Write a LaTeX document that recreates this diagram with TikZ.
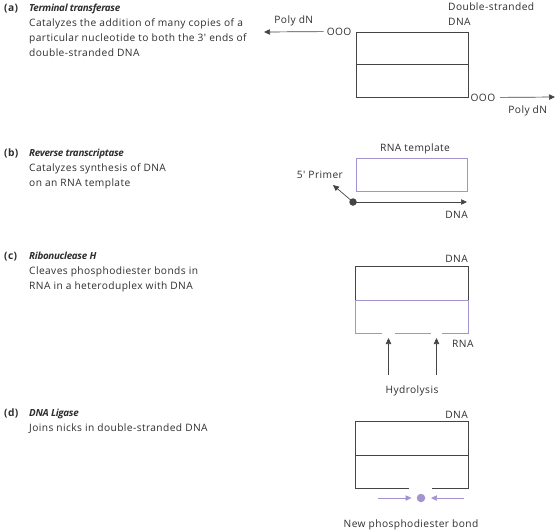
\documentclass[tikz,border=0pt]{standalone}
\usepackage{fontspec}
\setmainfont{Open Sans}[LetterSpace=4]
\usepackage{xcolor}
\usetikzlibrary{arrows.meta,positioning,calc}
\definecolor{ink}{HTML}{2E2E2E}
\definecolor{strandgray}{HTML}{444444}
\definecolor{lavender}{RGB}{163,148,207}
\tikzset{
  tag/.style={font=\fontsize{10.2}{14.8}\selectfont\bfseries, anchor=base west, inner sep=0pt, text=ink},
  entry/.style={anchor=north west, align=left, inner sep=0pt, text=ink, font=\fontsize{10.2}{14.8}\selectfont},
  small/.style={font=\fontsize{10.2}{14.8}\selectfont, text=ink, inner sep=0pt},
  dna/.style={draw=strandgray, line width=0.8pt},
  rna/.style={draw=lavender, line width=0.8pt},
  arrow/.style={-{Triangle[length=6pt,width=5.4pt]}, draw=strandgray, line width=0.7pt},
  purplearrow/.style={arrow, draw=lavender},
  spot/.style={circle, inner sep=0pt, minimum size=7.5pt},
  frame/.style={inner sep=0pt, minimum width=112pt},
}
\newcommand{\enzyme}[1]{{\fontsize{9.8}{14.8}\selectfont\addfontfeatures{LetterSpace=-3}\bfseries\itshape #1}}

\begin{document}
\begin{tikzpicture}[x=1pt,y=-1pt]
\useasboundingbox (0,0) rectangle (556,531);

% left column
\node[tag] (taga) at (4,11.6) {(a)};
\node[entry] (enta) at (29,4.2) {\enzyme{Terminal transferase}\\Catalyzes the addition of many copies of a\\particular nucleotide to both the 3′ ends of\\double-stranded DNA};
\node[tag] (tagb) at (4,156.3) {(b)};
\node[entry] (entb) at (29,148.9) {\enzyme{Reverse transcriptase}\\Catalyzes synthesis of DNA\\on an RNA template};
\node[tag] (tagc) at (4,259.6) {(c)};
\node[entry] (entc) at (29,252.2) {\enzyme{Ribonuclease H}\\Cleaves phosphodiester bonds in\\RNA in a heteroduplex with DNA};
\node[tag] (tagd) at (4,416.6) {(d)};
\node[entry] (entd) at (29,409.2) {\enzyme{DNA Ligase}\\Joins nicks in double-stranded DNA};

% (a) terminal transferase
\node[frame, dna, minimum height=65pt] (dsa) at (412,64.5) {};
\draw[dna] (dsa.west) -- (dsa.east);
\node[small, align=left, anchor=north west] (dslabel) at (448,2.5) {Double-stranded\\DNA};
\node[small, anchor=east] (oooleft) at ([xshift=-4pt]dsa.north west) {OOO};
\node[small, anchor=west] (oooright) at ([xshift=2pt]dsa.south east) {OOO};
\coordinate (polyleft) at (264,32);
\coordinate (polyright) at (555,97);
\draw[arrow] ([xshift=-3pt]oooleft.west) -- node[small, above=6pt] (polylabelleft) {Poly dN} (polyleft);
\draw[arrow] ([xshift=5pt]oooright.east) -- node[small, below=8pt] (polylabelright) {Poly dN} (polyright);

% (b) reverse transcriptase
\node[frame, rna, minimum width=111pt, minimum height=33pt] (rnabox) at (411.5,174.5) {};
\node[small, anchor=base] (rnalabel) at (415,151) {RNA template};
\node[spot, fill=strandgray] (primerdot) at (353,202) {};
\coordinate (dnaend) at (467,202);
\coordinate (primerend) at (333,185);
\draw[arrow] (primerdot.center) -- (dnaend);
\draw[arrow] (primerdot.center) -- (primerend);
\node[small, anchor=base east] (dnalabelb) at (468,218) {DNA};
\node[small, anchor=base east] (primerlabel) at (343,178) {5′ Primer};

% (c) ribonuclease H
\node[frame, minimum height=66pt] (hetero) at (412,300) {};
\coordinate (cut1) at (388.5,333);
\coordinate (cut2) at (436.5,333);
\draw[dna] (hetero.west) |- (hetero.north east) -- (hetero.east);
\draw[rna] ([xshift=-6.5pt]cut1) -| (hetero.west) -- (hetero.east) |- ([xshift=5.5pt]cut2);
\draw[rna] ([xshift=6.5pt]cut1) -- ([xshift=-5.5pt]cut2);
\node[small, anchor=base east] (dnalabelc) at (468,262) {DNA};
\node[small, anchor=base west] (rnalabelc) at (452,347) {RNA};
\draw[arrow] ([yshift=-42pt]cut1) -- ([yshift=-5pt]cut1);
\draw[arrow] ([yshift=-42pt]cut2) -- ([yshift=-5pt]cut2);
\node[small, anchor=base] (hydlabel) at (412,393) {Hydrolysis};

% (d) DNA ligase
\node[frame, minimum height=66pt] (ligated) at (412,455) {};
\coordinate (nickL) at (409,488);
\coordinate (nickR) at (432,488);
\draw[dna] (nickL) -| (ligated.north west) -- (ligated.north east) |- (nickR);
\draw[dna] (ligated.west) -- (ligated.east);
\node[small, anchor=base east] (dnalabeld) at (468,418) {DNA};
\node[spot, fill=lavender, minimum size=8.5pt] (bond) at (421,498) {};
\coordinate (joinL) at (378,498);
\coordinate (joinR) at (464,498);
\draw[purplearrow] (joinL) -- ([xshift=-5pt]bond.west);
\draw[purplearrow] (joinR) -- ([xshift=5.5pt]bond.east);
\node[small, anchor=base] (bondlabel) at (411,527.5) {New phosphodiester bond};
\end{tikzpicture}
\end{document}
